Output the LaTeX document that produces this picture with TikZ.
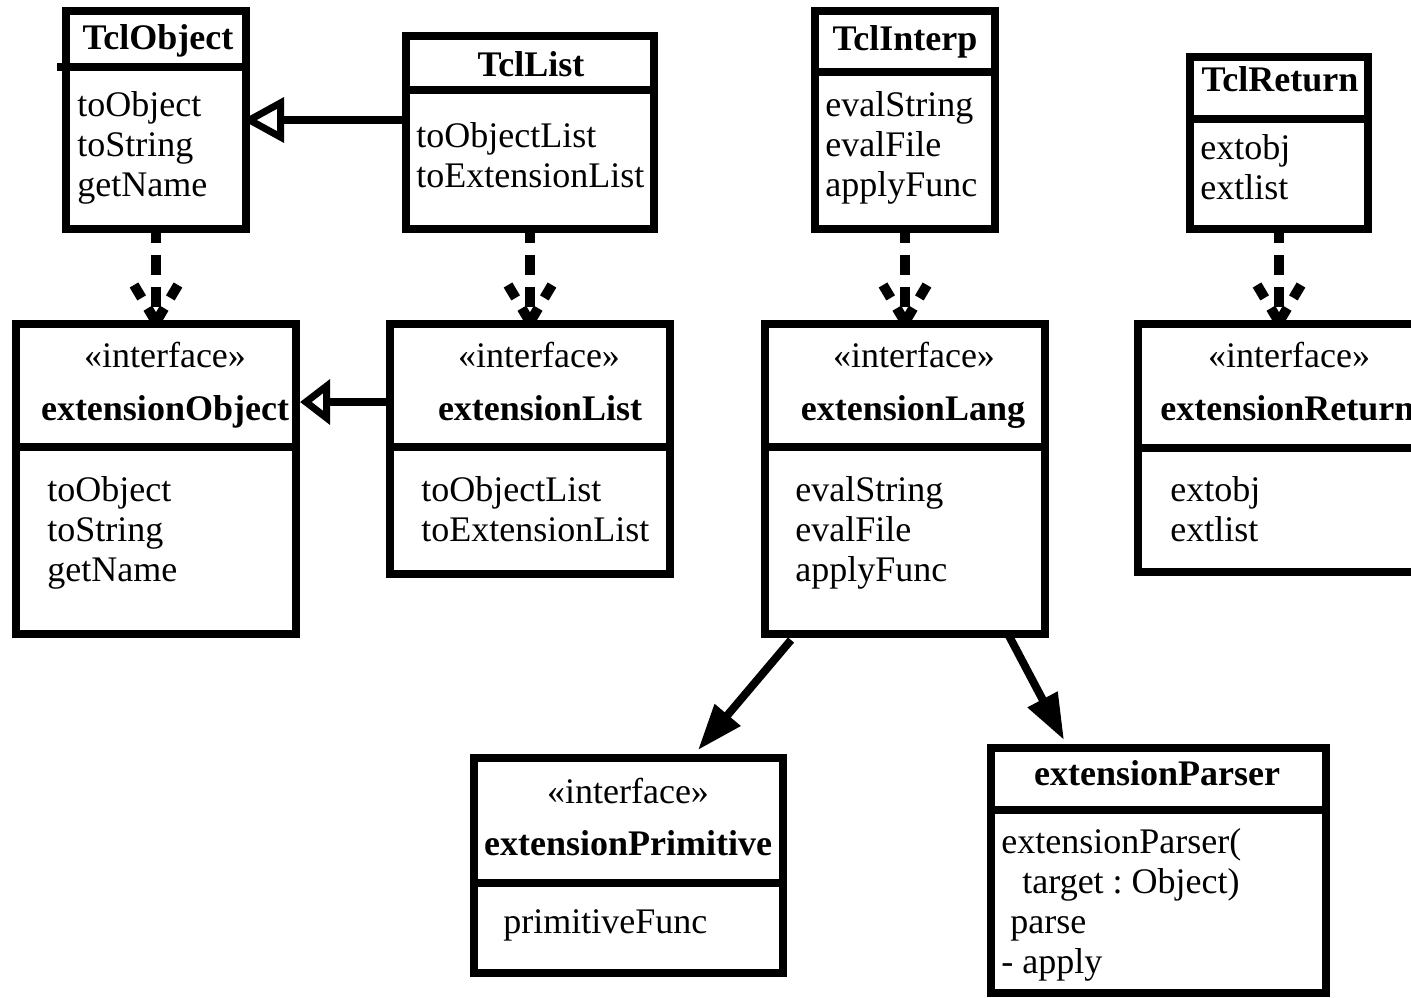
\documentclass[tikz,border=0pt]{standalone}
\usepackage{fontspec}
\setmainfont{Liberation Serif}
\usetikzlibrary{arrows.meta,fit}
\frenchspacing
\tikzset{
  umlbox/.style={draw, line width=4pt, inner sep=0pt, line join=miter},
  divline/.style={line width=4pt},
  itemtxt/.style={font=\fontsize{18pt}{20pt}\selectfont, inner sep=0pt, anchor=base west},
  titletxt/.style={font=\fontsize{18pt}{20pt}\selectfont\bfseries, inner sep=0pt, anchor=base},
  stereotxt/.style={font=\fontsize{18pt}{20pt}\selectfont, inner sep=0pt, anchor=base},
  genarrow/.style={line width=4pt, -{Triangle[open, length=#1, width=22pt, line width=3.5pt]}},
  deparrow/.style={line width=5pt, dash pattern=on 10pt off 6pt, dash phase=5pt},
  barbline/.style={line width=5pt, dash pattern=on 7.5pt off 6pt on 9pt off 20pt},
  assocarrow/.style={line width=4pt, -{Triangle[length=23pt, width=16pt]}},
}
\newcommand{\depbarbs}[1]{%
  \draw[barbline] ([xshift=-11pt,yshift=17.5pt]#1.north) -- ([yshift=-1pt]#1.north);
  \draw[barbline] ([xshift=11pt,yshift=17.5pt]#1.north) -- ([yshift=-1pt]#1.north);
}
\begin{document}
\begin{tikzpicture}[x=0.5pt,y=-0.5pt]
\useasboundingbox (0,0) rectangle (1411,997);
\clip (0,0) rectangle (1411,997);

% ---------- top row ----------
\node[umlbox, fit={(66,11) (246,229)}] (tclobject) {};
\draw[divline] (57,67) -- (tclobject.east |- 0,67);
\node[titletxt] (tclobjectT) at (158,49) {TclObject};
\foreach \s [count=\i] in {toObject,toString,getName}
  \node[itemtxt] (tclobject\i) at (77,{116+40*(\i-1)}) {\s};

\node[umlbox, fit={(406,36) (654,229)}] (tcllist) {};
\draw[divline] (tcllist.west |- 0,90) -- (tcllist.east |- 0,90);
\node[titletxt] (tcllistT) at (531,76) {TclList};
\foreach \s [count=\i] in {toObjectList,toExtensionList}
  \node[itemtxt] (tcllist\i) at (416,{147+40*(\i-1)}) {\s};

\node[umlbox, fit={(815,11) (995,229)}] (tclinterp) {};
\draw[divline] (tclinterp.west |- 0,72) -- (tclinterp.east |- 0,72);
\node[titletxt] (tclinterpT) at (905,50) {TclInterp};
\foreach \s [count=\i] in {evalString,evalFile,applyFunc}
  \node[itemtxt] (tclinterp\i) at (825,{116+40*(\i-1)}) {\s};

\node[umlbox, fit={(1190,57) (1368,229)}] (tclreturn) {};
\draw[divline] (tclreturn.west |- 0,119) -- (tclreturn.east |- 0,119);
\node[titletxt] (tclreturnT) at (1280,91) {TclReturn};
\foreach \s [count=\i] in {extobj,extlist}
  \node[itemtxt] (tclreturn\i) at (1200,{159+40*(\i-1)}) {\s};

% ---------- middle row ----------
\node[umlbox, fit={(16,324) (296,634)}] (extobject) {};
\draw[divline] (extobject.west |- 0,447) -- (extobject.east |- 0,447);
\node[stereotxt] (extobjectS) at (165,367) {«interface»};
\node[titletxt] (extobjectT) at (165,420) {extensionObject};
\foreach \s [count=\i] in {toObject,toString,getName}
  \node[itemtxt] (extobject\i) at (47,{501+40*(\i-1)}) {\s};

\node[umlbox, fit={(390,324) (670,574)}] (extlist) {};
\draw[divline] (extlist.west |- 0,447) -- (extlist.east |- 0,447);
\node[stereotxt] (extlistS) at (539,367) {«interface»};
\node[titletxt] (extlistT) at (540,420) {extensionList};
\foreach \s [count=\i] in {toObjectList,toExtensionList}
  \node[itemtxt] (extlist\i) at (421,{501+40*(\i-1)}) {\s};

\node[umlbox, fit={(765,324) (1045,634)}] (extlang) {};
\draw[divline] (extlang.west |- 0,447) -- (extlang.east |- 0,447);
\node[stereotxt] (extlangS) at (914,367) {«interface»};
\node[titletxt] (extlangT) at (913,420) {extensionLang};
\foreach \s [count=\i] in {evalString,evalFile,applyFunc}
  \node[itemtxt] (extlang\i) at (795,{501+40*(\i-1)}) {\s};

\node[umlbox, fit={(1138,324) (1420,572)}] (extreturn) {};
\draw[divline] (extreturn.west |- 0,448) -- (extreturn.east |- 0,448);
\node[stereotxt] (extreturnS) at (1289,367) {«interface»};
\node[titletxt, anchor=base west] (extreturnT) at (1160,420) {extensionReturn};
\foreach \s [count=\i] in {extobj,extlist}
  \node[itemtxt] (extreturn\i) at (1170,{501+40*(\i-1)}) {\s};

% ---------- bottom row ----------
\node[umlbox, fit={(474,758) (783,973)}] (extprim) {};
\draw[divline] (extprim.west |- 0,883) -- (extprim.east |- 0,883);
\node[stereotxt] (extprimS) at (628,803) {«interface»};
\node[titletxt] (extprimT) at (628,855) {extensionPrimitive};
\node[itemtxt] (extprim1) at (503,933) {primitiveFunc};

\node[umlbox, fit={(991,748) (1326,993)}] (extparser) {};
\draw[divline] (extparser.west |- 0,810) -- (extparser.east |- 0,810);
\node[titletxt] (extparserT) at (1157,785) {extensionParser};
\node[itemtxt] (extparser1) at (1001,853) {extensionParser(};
\node[itemtxt] (extparser2) at (1022,893) {target : Object)};
\node[itemtxt] (extparser3) at (1010,933) {parse};
\node[itemtxt] (extparser4) at (1001,973) {- apply};

% ---------- connectors ----------
\draw[genarrow=21pt, shorten >=-4pt] (tcllist.west |- 0,120) -- (tclobject.east |- 0,120);
\draw[genarrow=15pt] (extlist.west |- 0,402) -- (extobject.east |- 0,402);

\draw[deparrow] (tclobject.south) -- (extobject.north);
\depbarbs{extobject}
\draw[deparrow] (tcllist.south) -- (extlist.north);
\depbarbs{extlist}
\draw[deparrow] (tclinterp.south) -- (extlang.north);
\depbarbs{extlang}
\draw[deparrow] (tclreturn.south) -- (extreturn.north);
\depbarbs{extreturn}

\draw[assocarrow] ([xshift=15pt,yshift=-1pt]extlang.south west) -- ([xshift=114pt,yshift=2pt]extprim.north west);
\draw[assocarrow] ([xshift=123.5pt,yshift=2pt]extlang.south west) -- ([xshift=38.5pt,yshift=2pt]extparser.north west);
\end{tikzpicture}
\end{document}
